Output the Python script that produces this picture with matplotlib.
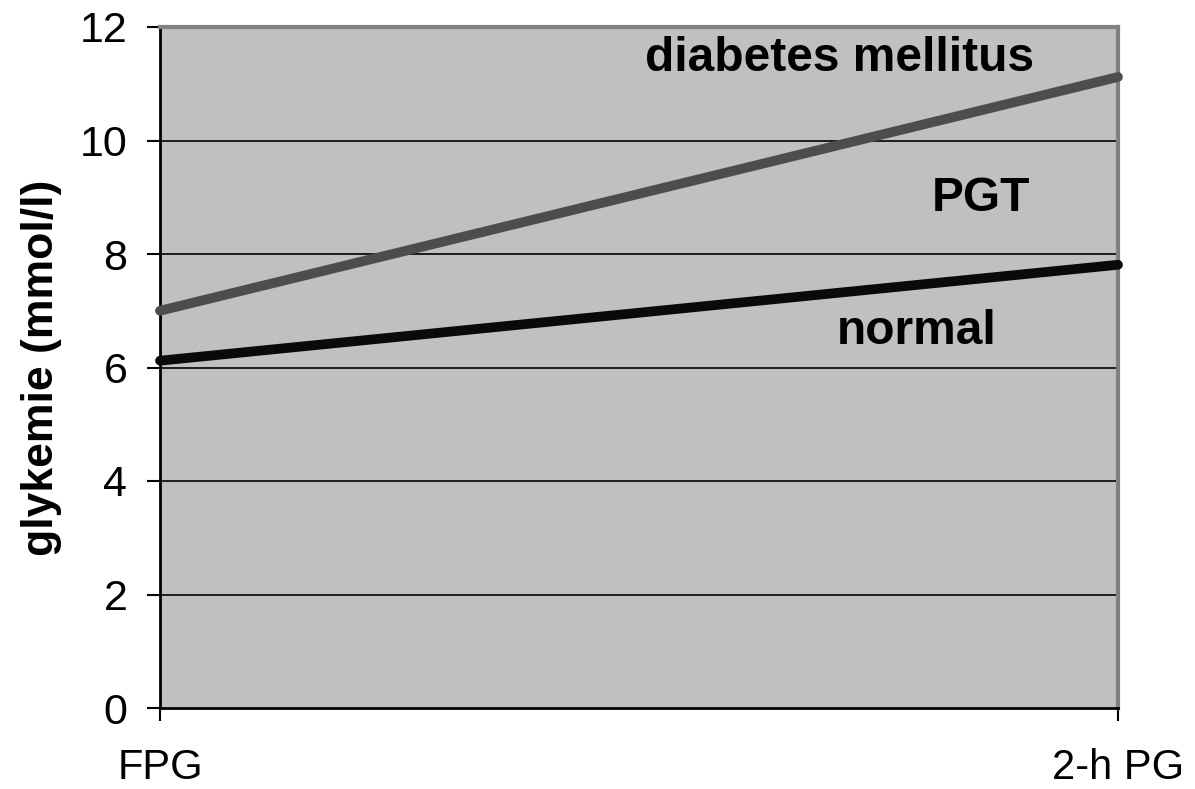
import matplotlib
matplotlib.use("Agg")
import matplotlib.pyplot as plt

categories = ["FPG", "2-h PG"]
diabetes = [7.0, 11.12]
normal = [6.12, 7.81]
yticks = [0, 2, 4, 6, 8, 10, 12]

plt.rcParams['font.family'] = ['Liberation Sans', 'DejaVu Sans']

fig = plt.figure(figsize=(11.95, 7.89), dpi=100)
ax = fig.add_axes([160/1195, 81/789, 958/1195, 681/789])
ax.set_facecolor('#C0C0C0')

x = list(range(len(categories)))
for v in yticks[1:-1]:
    ax.axhline(v, color='black', lw=1.2, zorder=1)
ax.plot(x, diabetes, color='#4D4D4D', lw=7, solid_capstyle='round', zorder=3, clip_on=False)
ax.plot(x, normal, color='#0A0A0A', lw=7, solid_capstyle='round', zorder=3, clip_on=False)

ax.set_xlim(0, 1)
ax.set_ylim(0, 12)
ax.set_yticks(yticks)
ax.set_xticks(x)
ax.set_xticklabels(categories)

ax.tick_params(axis='y', direction='out', length=9.5, width=1.5, pad=14, labelsize=31)
ax.tick_params(axis='x', direction='out', length=9.5, width=1.5, pad=19, labelsize=30)

for s in ['top', 'right']:
    ax.spines[s].set_color('#808080')
    ax.spines[s].set_linewidth(3)
for s in ['left', 'bottom']:
    ax.spines[s].set_color('black')
    ax.spines[s].set_linewidth(2)

ax.set_ylabel('glykemie (mmol/l)', fontsize=32, fontweight='bold', labelpad=13)

ax.text(0.709, 11.45, 'diabetes mellitus', fontsize=34.5, fontweight='bold', ha='center', va='center')
ax.text(0.857, 8.98, 'PGT', fontsize=34.5, fontweight='bold', ha='center', va='center')
ax.text(0.79, 6.64, 'normal', fontsize=34.5, fontweight='bold', ha='center', va='center')

fig.savefig('out.png', dpi=100)
